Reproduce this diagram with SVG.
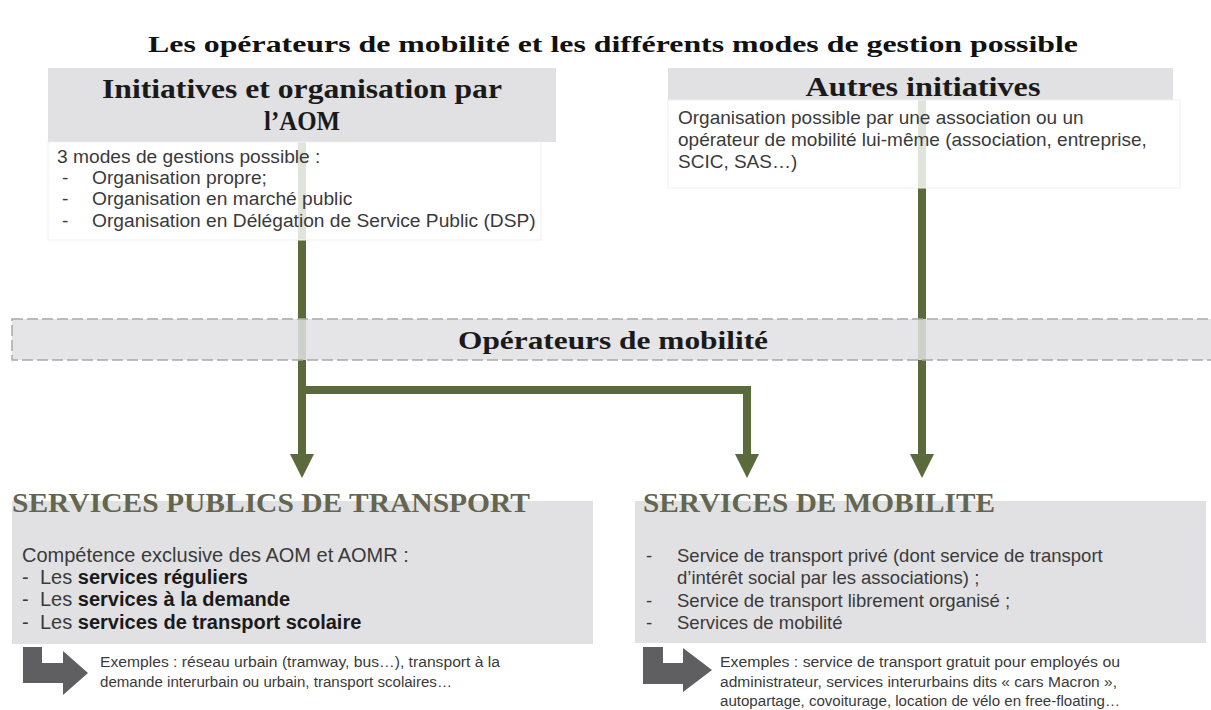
<svg xmlns="http://www.w3.org/2000/svg" width="1211" height="710" viewBox="0 0 1211 710">
<defs>
<style>
.title{font-family:"Liberation Serif",serif;font-weight:bold;fill:#111;}
.hdr{font-family:"Liberation Serif",serif;font-weight:bold;fill:#1a1a1a;}
.body{font-family:"Liberation Sans",Arial,sans-serif;fill:#3a3a3a;}
.ex{font-family:"Liberation Sans",Arial,sans-serif;fill:#3a3a3a;font-size:14px;}
.sec{font-family:"Liberation Serif",serif;font-weight:bold;fill:#64664f;}
.olive{stroke:#5a6a3a;stroke-width:8;fill:none;}
.gbox{fill:#e1e1e3;}
.bigarrow{fill:#5f5f61;}
</style>
</defs>
<rect width="1211" height="710" fill="#ffffff"/>
<text class="title" x="613" y="52" font-size="24" text-anchor="middle" textLength="930" lengthAdjust="spacingAndGlyphs">Les opérateurs de mobilité et les différents modes de gestion possible</text>

<g id="connectors">
<path class="olive" d="M302,140 V456"/>
<path class="olive" d="M302,390 H747 V456"/>
<path class="olive" d="M922,100 V456"/>
<polygon points="290,454 314,454 302,478" fill="#5a6a3a"/>
<polygon points="735,454 759,454 747,478" fill="#5a6a3a"/>
<polygon points="910,454 934,454 922,478" fill="#5a6a3a"/>
</g>

<g id="aom">
<rect class="gbox" x="48" y="68" width="508" height="74"/>
<text class="hdr" x="302" y="98" font-size="27" text-anchor="middle" textLength="400" lengthAdjust="spacingAndGlyphs">Initiatives et organisation par</text>
<text class="hdr" x="302" y="130" font-size="27" text-anchor="middle" textLength="76" lengthAdjust="spacingAndGlyphs">l’AOM</text>
<rect x="48" y="142" width="493" height="98" fill="#ffffff" fill-opacity="0.82" stroke="#f0f0f0" stroke-width="1"/>
<text class="body" font-size="19.2"><tspan x="57" y="163">3 modes de gestions possible :</tspan></text>
<text class="body" font-size="19.2"><tspan x="62" y="184">-</tspan><tspan x="92" y="184">Organisation propre;</tspan></text>
<text class="body" font-size="19.2"><tspan x="62" y="205">-</tspan><tspan x="92" y="205">Organisation en marché public</tspan></text>
<text class="body" font-size="19.2"><tspan x="62" y="227">-</tspan><tspan x="92" y="227">Organisation en Délégation de Service Public (DSP)</tspan></text>
</g>

<g id="autres">
<rect class="gbox" x="668" y="68" width="505" height="32"/>
<text class="hdr" x="923" y="96" font-size="27" text-anchor="middle" textLength="235" lengthAdjust="spacingAndGlyphs">Autres initiatives</text>
<rect x="668" y="100" width="512" height="88" fill="#ffffff" fill-opacity="0.82" stroke="#f0f0f0" stroke-width="1"/>
<text class="body" font-size="19"><tspan x="678" y="124">Organisation possible par une association ou un</tspan><tspan x="678" y="146">opérateur de mobilité lui-même (association, entreprise,</tspan><tspan x="678" y="168">SCIC, SAS…)</tspan></text>
</g>

<g id="operateurs">
<rect x="12" y="319" width="1205" height="41" fill="#e1e1e3" fill-opacity="0.86" stroke="#a9a9a9" stroke-width="1.5" stroke-dasharray="11,4"/>
<text class="hdr" x="613" y="349" font-size="26" text-anchor="middle" textLength="310" lengthAdjust="spacingAndGlyphs">Opérateurs de mobilité</text>
</g>

<g id="spt">
<rect class="gbox" x="12" y="501" width="581" height="143"/>
<text class="sec" x="12" y="512" font-size="27" textLength="518" lengthAdjust="spacingAndGlyphs">SERVICES PUBLICS DE TRANSPORT</text>
<text class="body" font-size="20" x="22" y="562">Compétence exclusive des AOM et AOMR :</text>
<text class="body" font-size="20"><tspan x="22" y="584">-</tspan><tspan x="40" y="584">Les </tspan><tspan font-weight="bold" fill="#1a1a1a">services réguliers</tspan></text>
<text class="body" font-size="20"><tspan x="22" y="606">-</tspan><tspan x="40" y="606">Les </tspan><tspan font-weight="bold" fill="#1a1a1a">services à la demande</tspan></text>
<text class="body" font-size="20"><tspan x="22" y="629">-</tspan><tspan x="40" y="629">Les </tspan><tspan font-weight="bold" fill="#1a1a1a">services de transport scolaire</tspan></text>
<polygon class="bigarrow" points="23,647 42,647 42,663 63,663 63,651 88,673 63,695 63,683 23,683"/>
<text class="ex" x="100" y="667" textLength="400" lengthAdjust="spacingAndGlyphs">Exemples : réseau urbain (tramway, bus…), transport à la</text>
<text class="ex" x="100" y="687" textLength="352" lengthAdjust="spacingAndGlyphs">demande interurbain ou urbain, transport scolaires…</text>
</g>

<g id="sm">
<rect class="gbox" x="635" y="501" width="571" height="142"/>
<text class="sec" x="643" y="512" font-size="27" textLength="352" lengthAdjust="spacingAndGlyphs">SERVICES DE MOBILITE</text>
<text class="body" font-size="18.5"><tspan x="646" y="562">-</tspan><tspan x="677" y="562">Service de transport privé (dont service de transport</tspan></text>
<text class="body" font-size="18.5"><tspan x="677" y="584">d’intérêt social par les associations) ;</tspan></text>
<text class="body" font-size="18.5"><tspan x="646" y="607">-</tspan><tspan x="677" y="607">Service de transport librement organisé ;</tspan></text>
<text class="body" font-size="18.5"><tspan x="646" y="629">-</tspan><tspan x="677" y="629">Services de mobilité</tspan></text>
<polygon class="bigarrow" points="643,647 663,647 663,663 683,663 683,648 712,670 683,692 683,684 643,684"/>
<text class="ex" x="720" y="667" textLength="400" lengthAdjust="spacingAndGlyphs">Exemples : service de transport gratuit pour employés ou</text>
<text class="ex" x="720" y="687" textLength="397" lengthAdjust="spacingAndGlyphs">administrateur, services interurbains dits « cars Macron »,</text>
<text class="ex" x="720" y="706" textLength="400" lengthAdjust="spacingAndGlyphs">autopartage, covoiturage, location de vélo en free-floating…</text>
</g>
</svg>
